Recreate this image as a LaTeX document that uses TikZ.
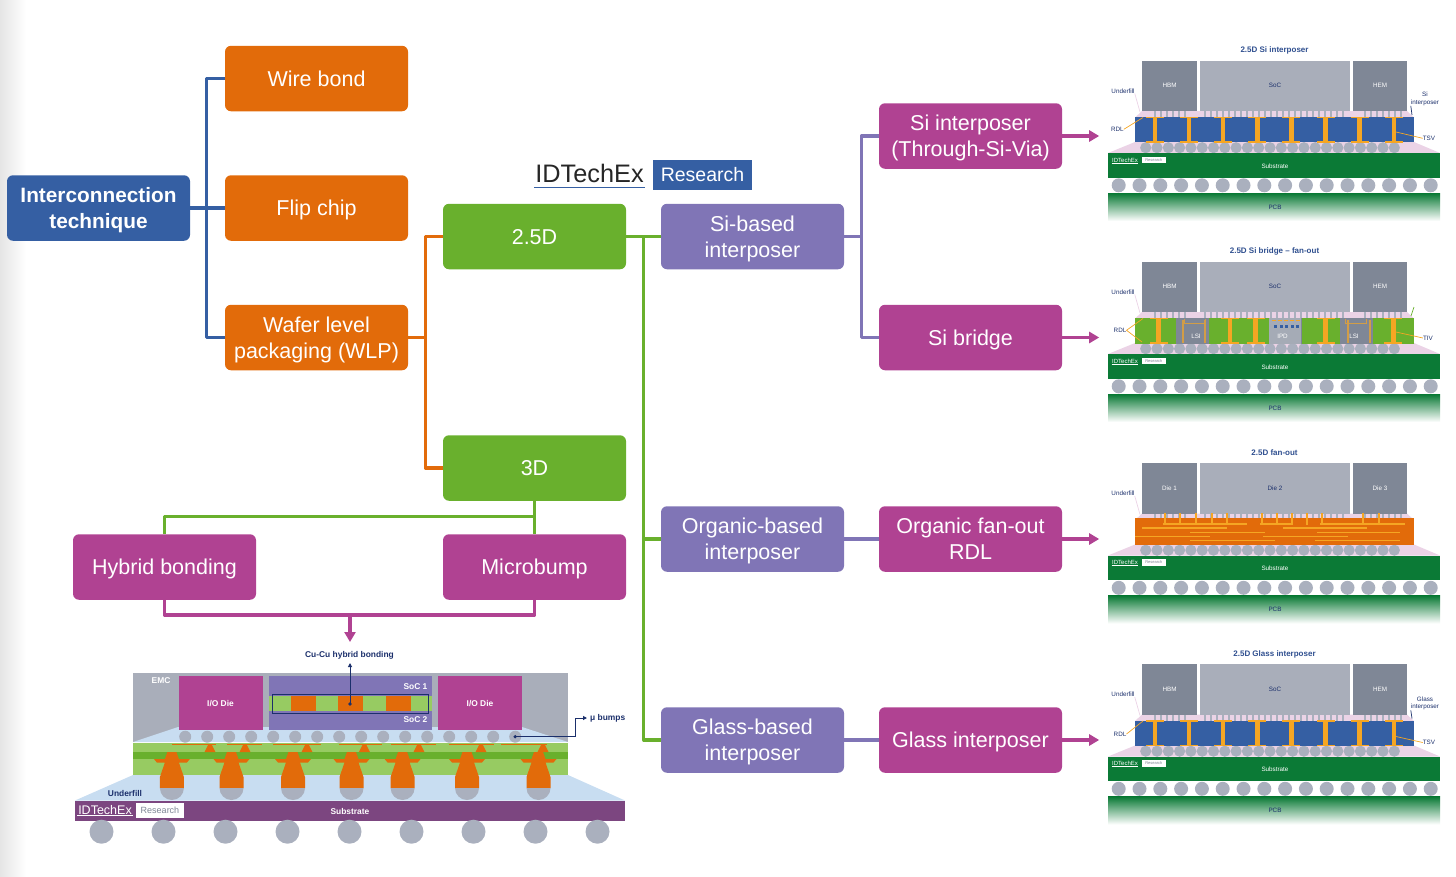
\documentclass[tikz,border=0pt]{standalone}
\usepackage{fontspec}
\setmainfont{Liberation Sans}
\usetikzlibrary{arrows.meta,calc}

\definecolor{blueBox}{HTML}{355FA3}
\definecolor{orangeBox}{HTML}{E26B0A}
\definecolor{greenBox}{HTML}{69B02D}
\definecolor{pinkBox}{HTML}{B04292}
\definecolor{purpleBox}{HTML}{8075B6}
\definecolor{navyText}{HTML}{1B2F6B}
\definecolor{titleText}{HTML}{2F4F8F}
\definecolor{greyDie}{HTML}{7F8796}
\definecolor{greySoc}{HTML}{A9AEBA}
\definecolor{greyBall}{HTML}{AAB0BE}
\definecolor{pinkFill}{HTML}{EBD3E6}
\definecolor{iceFill}{HTML}{C8DDF1}
\definecolor{limeFill}{HTML}{97CB62}
\definecolor{subGreen}{HTML}{0B7A36}
\definecolor{subPurple}{HTML}{7C4680}
\definecolor{tsvOrange}{HTML}{F5A623}

\tikzset{
  box/.style={rounded corners=6pt, minimum width=183pt, minimum height=65.5pt,
    align=center, text=white, inner sep=0pt, text depth=0pt,
    font=\fontsize{21.5}{26}\selectfont},
  wire/.style={line width=3.2pt, line join=round},
  tiny/.style={font=\fontsize{6.3}{7.5}\selectfont, inner sep=0pt, align=center},
  small/.style={font=\fontsize{8.4}{10}\bfseries\selectfont, inner sep=0pt, align=center},
  lead/.style={line width=0.7pt}
}

% upper dies, underfill, substrate, balls and PCB of one stack
\newcommand{\stackbase}[5]{
  \fill[pinkFill] (1108,153) -- (1135,142) -- (1414,142) -- (1440,153) -- cycle;
  \fill[pinkFill] (1135,117.5) -- (1142,111) -- (1407,111) -- (1414,117.5) -- cycle;
  \fill[greyDie] (1142,60.5) rectangle (1197,111);
  \fill[greySoc] (1200,60.5) rectangle (1350,111);
  \fill[greyDie] (1353,60.5) rectangle (1407,111);
  \node[tiny, text=white] (dieA#1) at (1169.5,85.5) {#3};
  \node[tiny, text=navyText] (dieB#1) at (1275,85.5) {#4};
  \node[tiny, text=white] (dieC#1) at (1380,85.5) {#5};
  \node[font=\fontsize{8}{10}\bfseries\selectfont, text=titleText, inner sep=0pt] (title#1) at (1274.5,50.5) {#2};
  \foreach \x in {1145.7,1157,...,1405}
    \fill[greyBall] (\x,147.7) circle[radius=5.6];
  \fill[subGreen] (1108,153.3) rectangle (1440,177.7);
  \foreach \x in {1118.7,1139.5,...,1432}
    \fill[greyBall] (\x,185.3) circle[radius=7];
  \shade[top color=subGreen, bottom color=white] (1108,193.3) rectangle (1440,221);
  \node[tiny, text=white] (sub#1) at (1275,166) {Substrate};
  \node[tiny, text=navyText] (pcb#1) at (1275,207) {PCB};
  \node[font=\fontsize{6}{7}\selectfont, text=white, inner sep=0.4pt] (logo#1) at (1125,160) {IDTechEx};
  \draw[white, line width=0.4pt] (logo#1.south west) -- (logo#1.south east);
  \node[fill=white, text=greyDie, font=\fontsize{4}{5}\selectfont, minimum width=24pt, minimum height=6.6pt, inner sep=0pt] (res#1) at (1153.8,160) {Research};
  \node[tiny, text=navyText] (under#1) at (1123,91) {Underfill};
  \coordinate (underEnd#1) at (1140,112);
  \draw[lead, pinkFill] (under#1.south east) -- (underEnd#1);
  \foreach \x in {1155,1161,...,1186,1205,1211,...,1346,1365,1371,...,1401}
    \fill[greyBall] (\x-1.2,111) rectangle (\x+1.2,117);
}

% through vias with their pads
\newcommand{\vias}[1]{
  \foreach \x in {#1} {
    \fill[tsvOrange] (\x-2.2,117.5) rectangle (\x+2.2,142);
    \fill[tsvOrange] (\x-9,116.5) rectangle (\x+9,118.3);
    \fill[tsvOrange] (\x-9,141) rectangle (\x+9,142.5);
  }
}

\begin{document}
\begin{tikzpicture}[x=1pt,y=-1pt]
  \useasboundingbox (0,0) rectangle (1456,876);
  \shade[left color=black!10, right color=white] (0,0) rectangle (26,876);

  % tree of boxes
  \node[box, fill=blueBox, font=\fontsize{20.8}{26}\bfseries\selectfont] (inter) at (98.5,208) {Interconnection\\technique};
  \node[box, fill=orangeBox] (wire) at (316.5,78.5) {Wire bond};
  \node[box, fill=orangeBox] (flip) at (316.5,208) {Flip chip};
  \node[box, fill=orangeBox] (wlp) at (316.5,337.5) {Wafer level\\packaging (WLP)};
  \node[box, fill=greenBox] (twoD) at (534.5,236.5) {2.5D};
  \node[box, fill=greenBox] (threeD) at (534.5,468) {3D};
  \node[box, fill=pinkBox] (hybrid) at (164.5,567) {Hybrid bonding};
  \node[box, fill=pinkBox] (micro) at (534.5,567) {Microbump};
  \node[box, fill=purpleBox] (siBased) at (752.5,236.5) {Si-based\\interposer};
  \node[box, fill=purpleBox] (orgBased) at (752.5,539) {Organic-based\\interposer};
  \node[box, fill=purpleBox] (glassBased) at (752.5,740) {Glass-based\\interposer};
  \node[box, fill=pinkBox] (siInter) at (970.5,136) {Si interposer\\(Through-Si-Via)};
  \node[box, fill=pinkBox] (siBridge) at (970.5,337.5) {Si bridge};
  \node[box, fill=pinkBox] (orgFan) at (970.5,539) {Organic fan-out\\RDL};
  \node[box, fill=pinkBox] (glassInter) at (970.5,740) {Glass interposer};

  % logo
  \node[font=\fontsize{25.3}{30}\selectfont, text=black!85, inner sep=0pt] (logoA) at (589.5,173.5) {IDTechEx};
  \draw[line width=1pt, blueBox] (534,187.5) -- (645,187.5);
  \node[fill=blueBox, text=white, font=\fontsize{19.5}{24}\selectfont, minimum width=99pt, minimum height=30pt, inner sep=0pt] (logoB) at (702.5,175) {Research};

  % connectors
  \draw[wire, blueBox] (inter.east) -- (flip.west);
  \draw[wire, blueBox] (wire.west) -- ++(-18,0) |- (wlp.west);
  \draw[wire, orangeBox] (twoD.west) -- ++(-17.5,0) |- (threeD.west);
  \draw[wire, orangeBox] (wlp.east) -- ++(17.5,0);
  \draw[wire, greenBox] (twoD.east) -- (siBased.west);
  \draw[wire, greenBox] (twoD.east) -- ++(17.5,0) |- (glassBased.west);
  \draw[wire, greenBox] (orgBased.west) -- ++(-17.5,0);
  \draw[wire, greenBox] (threeD.south) -- (micro.north);
  \draw[wire, greenBox] (hybrid.north) |- ($(threeD.south)+(0,15.5)$);
  \draw[wire, purpleBox] (siInter.west) -- ++(-17.5,0) |- (siBridge.west);
  \draw[wire, purpleBox] (siBased.east) -- ++(17.5,0);
  \draw[wire, purpleBox] (orgBased.east) -- (orgFan.west);
  \draw[wire, purpleBox] (glassBased.east) -- (glassInter.west);
  \draw[wire, pinkBox] (hybrid.south) |- ($(micro.south)+(0,15)$) -- (micro.south);
  \coordinate (drop) at (350,615);
  \coordinate (dropEnd) at (350,642);
  \draw[wire, pinkBox, -{Triangle[length=10pt,width=11pt]}] (drop) -- (dropEnd);
  \foreach \src/\dst in {siInter/a,siBridge/b,orgFan/c,glassInter/d} {
    \coordinate (\dst) at ($(\src.east)+(37,0)$);
    \draw[wire, pinkBox, -{Triangle[length=10pt,width=11pt]}] (\src.east) -- (\dst);
  }

  % hybrid bonding cross-section
  \fill[greySoc] (133,673) rectangle (568,742);
  \fill[iceFill] (133,742) -- (178,727) -- (522,727) -- (568,742) -- cycle;
  \fill[pinkBox] (178.5,676) rectangle (263.3,730);
  \fill[pinkBox] (437.8,676) rectangle (522,730);
  \fill[purpleBox] (268.5,675.7) rectangle (432,730);
  \fill[limeFill] (268.5,696) rectangle (432,711);
  \foreach \x in {290.7,337.8,385.6}
    \fill[orangeBox] (\x,696) rectangle (\x+25,710.5);
  \foreach \i in {0,...,15}
    \fill[greyBall] (185.2+22*\i,736.7) circle[radius=6];
  \fill[limeFill] (133,742.7) rectangle (568,775);
  \fill[greenBox] (133,752) rectangle (568,759);
  \fill[iceFill] (75,800.5) -- (133,775) -- (568,775) -- (625,800.5) -- cycle;
  \foreach \x/\y in {172/215.5,226.7/262,273/321,338.5/382,390.7/436,449/494,500.7/547}
    \fill[orangeBox] (\x,743.5) rectangle (\y,745.2);
  \foreach \x in {210,245,307,364.4,419,481,543}
    \fill[orangeBox] (\x-2,745) -- (\x+2,745) -- (\x+5.5,752) -- (\x-5.5,752) -- cycle;
  \foreach \x in {171.9,231.5,293,351.5,402.6,467,538.5} {
    \fill[orangeBox] (\x-4.5,752) -- (\x+4.5,752) -- (\x+7,759) -- (\x+18,759) -- (\x+15,762.5)
      -- (\x+7,762.5) -- (\x+12,777) -- (\x+12,788) -- (\x-12,788) -- (\x-12,777) -- (\x-7,762.5)
      -- (\x-15,762.5) -- (\x-18,759) -- (\x-7,759) -- cycle;
    \fill[greyBall] (\x-12,788) arc[start angle=180, end angle=0, radius=12] -- cycle;
  }
  \fill[subPurple] (75,801) rectangle (625,821);
  \foreach \i in {0,...,8}
    \fill[greyBall] (101.5+62*\i,831.7) circle[radius=12];

  \node[small, text=navyText] (cuLabel) at (349.5,655.5) {Cu-Cu hybrid bonding};
  \node[small, text=white] (dieLeft) at (220.5,704) {I/O Die};
  \node[small, text=white] (dieRight) at (480,704) {I/O Die};
  \node[small, text=white] (socA) at (415.5,686.5) {SoC 1};
  \node[small, text=white] (socB) at (415.5,720) {SoC 2};
  \node[small, text=white] (emc) at (161,681) {EMC};
  \node[small, text=navyText] (fill) at (125,793) {Underfill};
  \node[small, text=white] (subLeft) at (350,811.5) {Substrate};
  \node[font=\fontsize{12.5}{15}\selectfont, text=white, inner sep=0.6pt] (logoC) at (105,810) {IDTechEx};
  \draw[white, line width=0.5pt] (logoC.south west) -- (logoC.south east);
  \node[fill=white, text=greyDie, font=\fontsize{9}{11}\selectfont, minimum width=48pt, minimum height=15pt, inner sep=0pt] (logoD) at (160,810.5) {Research};
  \node[small, text=navyText, anchor=west] (bumps) at (590,718) {μ bumps};

  \node[draw=navyText, line width=1pt, minimum width=156pt, minimum height=19pt, inner sep=0pt] (bondFrame) at (350,703.5) {};
  \coordinate (bondDot) at (350,704);
  \coordinate (bondTop) at (350,663);
  \fill[navyText] (bondDot) circle[radius=1.8];
  \draw[navyText, line width=1pt, -{Triangle[length=4pt,width=4pt]}] (bondDot) -- (bondTop);
  \coordinate (bumpDot) at (515.2,736.7);
  \fill[navyText] (bumpDot) circle[radius=1.8];
  \draw[navyText, line width=1pt, shorten >=3pt, -{Triangle[length=4pt,width=4pt]}] (bumpDot) -| (575.5,718) -- (bumps.west);

  % Si interposer stack
  \begin{scope}
    \stackbase{A}{2.5D Si interposer}{HBM}{SoC}{HEM}
    \fill[blueBox] (1135,117.3) rectangle (1414,142);
    \vias{1155,1189.1,1223.2,1257.3,1291.4,1325.5,1359.6,1393.7}
    \node[tiny, text=navyText] (rdlA) at (1117.3,129.3) {RDL};
    \coordinate (rdlEndA) at (1143,117.5);
    \draw[lead, tsvOrange] (rdlA.east) -- (rdlEndA);
    \node[tiny, text=navyText] (sideA) at (1425,99) {Si\\interposer};
    \coordinate (sideEndA) at (1412,115);
    \draw[lead, navyText] (sideA.south west) -- (sideEndA);
    \node[tiny, text=navyText] (tsvA) at (1429,138.3) {TSV};
    \coordinate (tsvEndA) at (1396,132);
    \draw[lead, tsvOrange] (tsvA.west) -- (tsvEndA);
  \end{scope}

  % Si bridge stack
  \begin{scope}[shift={(0,201)}]
    \stackbase{B}{2.5D Si bridge – fan-out}{HBM}{SoC}{HEM}
    \fill[greenBox] (1135,117) rectangle (1414,142.5);
    \foreach \x in {1176,1268.5,1340}
      \fill[greyDie] (\x,117) rectangle (\x+33,142.5);
    \fill[greyDie!70!white] (1268.5,117) rectangle (1301,142.5);
    \vias{1158.5,1230,1255.5,1325.5,1393.3}
    \foreach \x in {1182,1204,1347,1369}
      \fill[tsvOrange!70!greyDie] (\x,119) rectangle (\x+1.5,142);
    \draw[tsvOrange!70!greyDie, line width=0.8pt] (1184,118) -- (1184,122) -- (1205,122) -- (1205,118);
    \draw[tsvOrange!70!greyDie, line width=0.8pt] (1345,118) -- (1345,122) -- (1366,122) -- (1366,118);
    \foreach \x in {1274,1279.5,...,1298}
      \fill[blueBox] (\x,123.5) rectangle (\x+3,127);
    \foreach \x in {1272,1278,...,1296}
      \fill[tsvOrange] (\x,119) rectangle (\x+4,120);
    \node[tiny, text=white] (lsiA) at (1196,135.5) {LSI};
    \node[tiny, text=white] (ipd) at (1282.5,135.5) {IPD};
    \node[tiny, text=white] (lsiB) at (1354,135.5) {LSI};
    \node[tiny, text=navyText] (rdlB) at (1120,129.3) {RDL};
    \coordinate (rdlUp) at (1143,117.5);
    \coordinate (rdlDown) at (1142,141);
    \draw[lead, tsvOrange] (rdlUp) -- (rdlB.east) -- (rdlDown);
    \node[tiny, text=navyText] (tivB) at (1428,137) {TIV};
    \coordinate (tivEnd) at (1396,131);
    \draw[lead, tsvOrange] (tivB.west) -- (tivEnd);
    \coordinate (sideLow) at (1411,115);
    \coordinate (sideHigh) at (1414,106);
    \draw[lead, greenBox] (sideLow) -- (sideHigh);
  \end{scope}

  % fan-out stack
  \begin{scope}[shift={(0,402.5)}]
    \stackbase{C}{2.5D fan-out}{Die 1}{Die 2}{Die 3}
    \fill[orangeBox] (1135,115.7) rectangle (1414,142.5);
    \foreach \x in {1165,1180,1196,1212,1227,1262,1277,1292,1307,1322,1363,1379}
      \fill[tsvOrange] (\x-1,110) rectangle (\x+1,122);
    \foreach \xa/\xb/\yy in {1163/1247/121.5,1260/1293/121.5,1320/1405/121.5,
      1142/1227/125.5,1283/1367/125.5,1190/1265/130,1317/1400/130,
      1135/1210/134,1263/1348/134,1190/1275/138,1315/1400/138}
      \fill[tsvOrange] (\xa,\yy-0.7) rectangle (\xb,\yy+0.7);
  \end{scope}

  % glass interposer stack
  \begin{scope}[shift={(0,603.5)}]
    \stackbase{D}{2.5D Glass interposer}{HBM}{SoC}{HEM}
    \fill[blueBox] (1135,117.3) rectangle (1414,142);
    \vias{1155,1189.1,1223.2,1257.3,1291.4,1325.5,1359.6,1393.7}
    \node[tiny, text=navyText] (rdlD) at (1120,130.5) {RDL};
    \coordinate (rdlEndD) at (1143,117.5);
    \draw[lead, tsvOrange] (rdlD.east) -- (rdlEndD);
    \node[tiny, text=navyText] (sideD) at (1425,100) {Glass\\interposer};
    \coordinate (sideEndD) at (1412,115);
    \draw[lead, navyText] (sideD.south west) -- (sideEndD);
    \node[tiny, text=navyText] (tsvD) at (1429,139) {TSV};
    \coordinate (tsvEndD) at (1396,133);
    \draw[lead, tsvOrange] (tsvD.west) -- (tsvEndD);
  \end{scope}
\end{tikzpicture}
\end{document}
